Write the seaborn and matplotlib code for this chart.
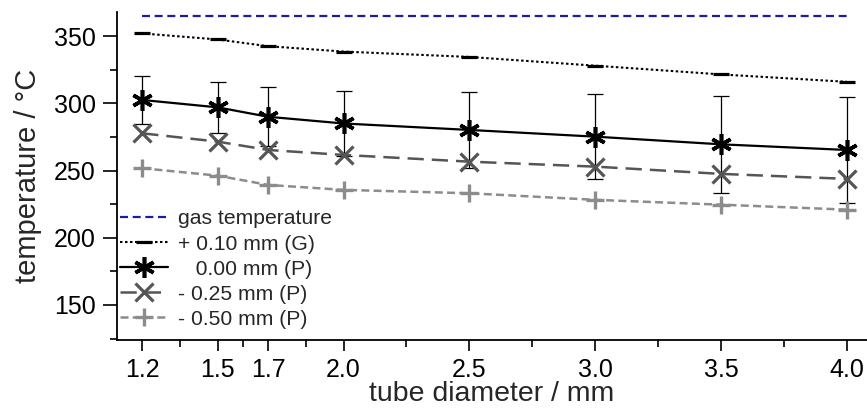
import numpy as np
import pandas as pd
import matplotlib
matplotlib.use("Agg")
import matplotlib.pyplot as plt
import seaborn as sns

# data
diameter = [1.2, 1.5, 1.7, 2.0, 2.5, 3.0, 3.5, 4.0]
gas_temp = [365, 365, 365, 365, 365, 365, 365, 365]
plus_010_G = [352, 347.5, 342.5, 338.5, 334.5, 328, 321.5, 316]
zero_000_P = [302.5, 297, 290, 285, 280.2, 275.2, 269.5, 265.3]
zero_000_err = [18, 19, 22, 24, 28.4, 31.7, 36, 39.6]
minus_025_P = [277.7, 271.5, 265.3, 261.6, 256.6, 252.9, 247.5, 243.8]
minus_050_P = [251.7, 246.2, 239.3, 235.6, 233.1, 228.2, 224.6, 220.9]

labels = ["gas temperature", "+ 0.10 mm (G)", "   0.00 mm (P)",
          "- 0.25 mm (P)", "- 0.50 mm (P)"]
x_ticks = [1.2, 1.5, 1.7, 2.0, 2.5, 3.0, 3.5, 4.0]
x_minor = [1.35, 1.6, 1.85, 2.25, 2.75, 3.25, 3.75]

sns.set_style("ticks")
plt.rcParams["font.family"] = ["Liberation Sans", "DejaVu Sans"]

fig = plt.figure(figsize=(8.67, 4.11), dpi=100)
ax = fig.add_axes([0.135, 0.173, 0.865, 0.798])

df = pd.DataFrame({"d": diameter})

sns.lineplot(x=df["d"], y=gas_temp, ax=ax, color="#1c1ca0", lw=1.6,
             linestyle=(0, (3.6, 2.1)), label=labels[0])
sns.lineplot(x=df["d"], y=plus_010_G, ax=ax, color="black", lw=1.5,
             linestyle=(0, (1.2, 1.2)), marker="_", ms=11, mew=2.3,
             mec="black", label=labels[1])
ax.errorbar(diameter, zero_000_P, yerr=zero_000_err, fmt="none",
            ecolor="black", elinewidth=0.9, capsize=6, capthick=0.9, zorder=1)
sns.lineplot(x=df["d"], y=zero_000_P, ax=ax, color="black", lw=1.6,
             marker=(6, 2, 0), ms=15, mew=2.6, mec="black", label=labels[2])
sns.lineplot(x=df["d"], y=minus_025_P, ax=ax, color="#555555", lw=1.8,
             linestyle=(0, (6.5, 3.2)), marker="x", ms=13, mew=2.3,
             mec="#555555", label=labels[3])
sns.lineplot(x=df["d"], y=minus_050_P, ax=ax, color="#8c8c8c", lw=1.8,
             linestyle=(0, (3.2, 1.7)), marker="+", ms=12.5, mew=2.4,
             mec="#8c8c8c", label=labels[4])

ax.set_xlim(1.1, 4.08)
ax.set_ylim(124, 368)
ax.set_xticks(x_ticks)
ax.set_xticklabels([f"{v:.1f}" for v in x_ticks])
ax.set_xticks(x_minor, minor=True)
ax.set_yticks([150, 200, 250, 300, 350])
ax.set_yticks([125, 175, 225, 275, 325], minor=True)

ax.tick_params(axis="both", which="major", labelsize=18, length=8,
               width=1.2, color="black", labelcolor="black")
ax.tick_params(axis="y", which="major", length=10, pad=5.5)
ax.tick_params(axis="x", which="major", pad=5)
ax.tick_params(axis="both", which="minor", length=5, width=1.2, color="black")

for side in ["top", "right"]:
    ax.spines[side].set_visible(False)
for side in ["left", "bottom"]:
    ax.spines[side].set_linewidth(1.3)
    ax.spines[side].set_color("black")

ax.set_xlabel("tube diameter / mm", fontsize=20.5, labelpad=-1)
ax.set_ylabel("temperature / °C", fontsize=21, labelpad=8)

ax.legend(loc="lower left", bbox_to_anchor=(-0.013, -0.005), frameon=False,
          fontsize=15.2, handlelength=2.27, handletextpad=0.47,
          labelspacing=0.29, borderaxespad=0.2)

fig.savefig("out.png", dpi=100)
